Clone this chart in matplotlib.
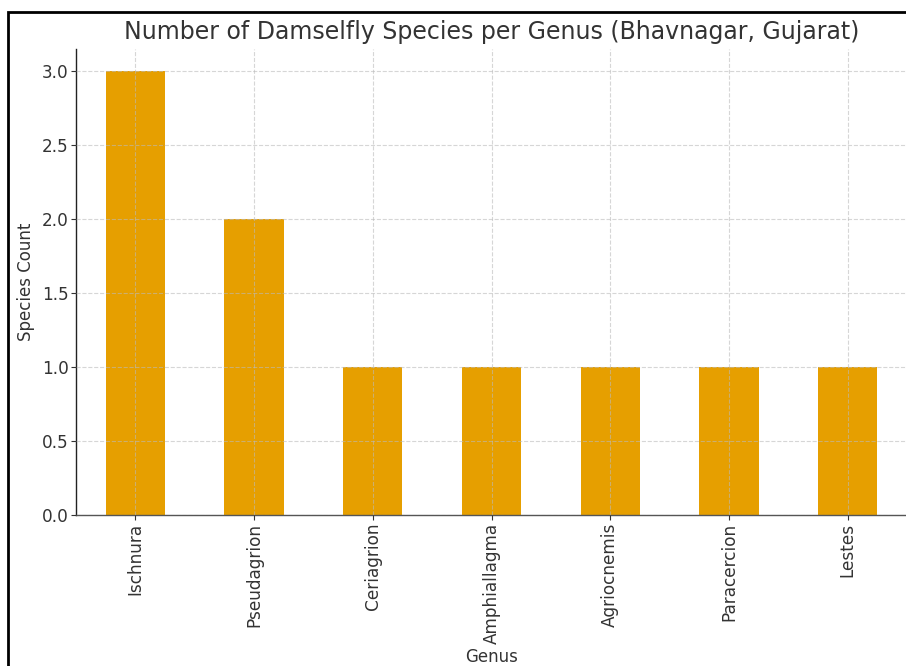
import matplotlib
matplotlib.use("Agg")
import matplotlib.pyplot as plt
from matplotlib.patches import Rectangle

genera = ["Ischnura", "Pseudagrion", "Ceriagrion", "Amphiallagma",
          "Agriocnemis", "Paracercion", "Lestes"]
counts = [3, 2, 1, 1, 1, 1, 1]

W, H = 906, 666
fig = plt.figure(figsize=(W / 100, H / 100), dpi=100)
ax = fig.add_axes([76 / W, 1 - 515 / H, (907 - 76) / W, (515 - 49) / H])

ax.bar(range(len(genera)), counts, width=0.5, color="#E69F00", zorder=1)
ax.set_xlim(-0.5, len(genera) - 0.5)
ax.set_ylim(0, 3.15)
ax.set_yticks([0, 0.5, 1.0, 1.5, 2.0, 2.5, 3.0])
ax.set_yticklabels(["0.0", "0.5", "1.0", "1.5", "2.0", "2.5", "3.0"])
ax.set_xticks(range(len(genera)))
ax.set_xticklabels(genera, rotation=90)

ax.grid(True, linestyle="--", color="#bbbbbb", alpha=0.6, linewidth=0.8, zorder=3)
ax.set_axisbelow(False)

for s in ["top", "right"]:
    ax.spines[s].set_visible(False)
ax.spines["left"].set_color("#222222")
ax.spines["bottom"].set_color("#555555")
ax.spines["left"].set_linewidth(1.0)
ax.spines["bottom"].set_linewidth(1.0)
ax.tick_params(axis="both", labelsize=12.2, colors="#333333", labelcolor="#333333")
ax.tick_params(axis="y", pad=1.8)
ax.tick_params(axis="x", pad=2.2)

ax.set_title("Number of Damselfly Species per Genus (Bhavnagar, Gujarat)",
             fontsize=17, color="#333333", pad=7)
ax.set_ylabel("Species Count", fontsize=12, color="#333333", labelpad=5)
ax.set_xlabel("Genus", fontsize=12, color="#333333", labelpad=3)

frame = Rectangle((8 / W, -0.5), 2.0, 0.5 + 1 - 11.5 / H, transform=fig.transFigure,
                  fill=False, edgecolor="black", linewidth=2)
fig.patches.append(frame)

fig.savefig("out.png", dpi=100)
